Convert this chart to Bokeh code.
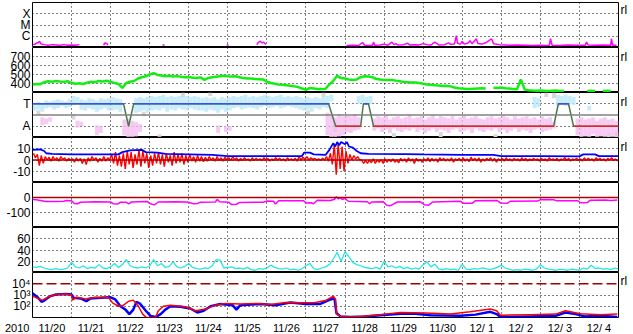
import numpy as np
from bokeh.plotting import figure
from bokeh.layouts import column
from bokeh.models import Range1d, FixedTicker, Span, LinearAxis, LogAxis
from bokeh.embed import file_html
from bokeh.resources import INLINE

nan = float("nan")

# ---------------- data ----------------
day_labels = ["11/20", "11/21", "11/22", "11/23", "11/24", "11/25", "11/26", "11/27",
              "11/28", "11/29", "11/30", "12/ 1", "12/ 2", "12/ 3", "12/ 4"]
year_label = "2010"

# X-ray flux (units of 1e-7 W/m2), (day, value); nan = gap
xray = [(0.0, 2.0), (0.05, 1.8), (0.1, 2.4), (0.15, 2.8), (0.18, 3.6), (0.22, 2.0), (0.3, 1.8),
        (0.4, 1.6), (0.5, 1.8), (0.6, 1.7), (0.7, 1.6), (0.8, 1.8), (0.9, 1.6), (1.0, 1.7),
        (1.1, 1.6), (1.2, 1.8), (1.21, nan),
        (1.82, 1.6), (1.85, 2.5), (1.9, 2.3), (1.93, 1.6), (1.94, nan),
        (3.33, 1.7), (3.38, 1.7), (3.39, nan),
        (4.97, 1.7), (5.02, 1.7), (5.03, nan),
        (5.74, 1.8), (5.78, 2.8), (5.82, 3.6), (5.88, 2.6), (5.92, 3.0), (5.97, 1.8), (5.98, nan),
        (8.04, 1.5), (8.2, 1.6), (8.35, 1.5), (8.45, 2.8), (8.5, 1.6), (8.7, 1.5), (8.73, 3.0),
        (8.76, 1.6), (8.9, 1.7), (9.0, 2.0), (9.1, 1.6), (9.2, 3.0), (9.25, 1.8), (9.3, 2.2),
        (9.35, 1.7), (9.5, 1.8), (9.6, 2.4), (9.65, 1.7), (9.8, 1.8), (9.9, 1.7), (10.0, 2.2),
        (10.1, 1.8), (10.2, 1.7), (10.3, 3.0), (10.4, 1.7), (10.55, 1.8), (10.65, 2.6),
        (10.7, 1.9), (10.8, 2.0), (10.85, 11.5), (10.88, 2.4), (10.95, 2.0), (11.0, 3.5),
        (11.05, 2.0), (11.15, 2.5), (11.2, 4.0), (11.25, 2.2), (11.36, 6.0), (11.4, 2.3),
        (11.5, 2.0), (11.6, 2.6), (11.75, 6.0), (11.8, 2.2), (11.85, 2.0), (11.95, 1.8),
        (12.1, 1.7), (12.2, 1.6), (12.4, 1.7), (12.6, 1.6), (12.8, 1.5), (13.0, 1.6),
        (13.1, 1.5), (13.23, 1.6), (13.26, 6.0), (13.3, 1.6), (13.5, 1.5), (13.7, 1.7),
        (13.9, 1.6), (14.15, 1.6), (14.18, 3.0), (14.22, 1.7), (14.4, 1.6), (14.6, 1.7),
        (14.8, 1.6), (14.82, 6.0), (14.85, 1.6), (14.95, 1.6)]

# Solar wind speed (km/s), every 0.1 day from 11/20 00:00
speed = [389, 395, 392, 415, 425, 420, 428, 422, 418, 425,
         405, 398, 402, 395, 410, 420, 415, 428, 422, 430,
         418, 405, 395, 350, 405, 420, 428, 455, 470, 480,
         500, 515, 495, 488, 480, 485, 478, 482, 475, 470,
         472, 465, 462, 468, 440, 462, 470, 475, 480, 485,
         480, 478, 480, 470, 460, 455, 455, 450, 448, 445,
         420, 405, 398, 390, 385, 380, 375, 368, 360, 345,
         330, 350, 345, 340, 340, 342, 390, 430, 485, 460,
         455, 445, 440, 445, 470, 480, 478, 470, 450, 445,
         440, 438, 440, 432, 425, 418, 415, 412, 410, 405,
         398, 390, 385, 380, 378, 372, 375, 368, 355, 348,
         345, 340, 338, 342, 345, 348, 345, nan, 352, 350,
         355, 348, 345, 340, 335, 445, 332, 325, 322, 320,
         322, 320, 318, 320, 322, 318, 320, nan, nan, nan,
         nan, nan, 318, 320, 316, nan, 318, 320, 318, nan,
         nan]

# IMF sector: T = 1, A = -1
sector_t = [0, 2.33, 2.46, 2.59, 7.58, 7.76, 8.40, 8.47, 8.60, 8.73, 13.34, 13.46, 13.72, 13.85, 15]
sector_v = [1, 1, -1, 1, 1, -1, -1, 1, 1, -1, -1, 1, 1, -1, -1]

# IMF angle clouds, 0.1-day bins: bin index, low, high
lb_k = list(range(0, 23)) + list(range(26, 77)) + [83, 84, 85, 86, 128, 129, 134, 135, 136, 137, 138, 142]
lb_lo = [0.4, 0.5, 0.3, 0.6, 0.7, 0.5, 0.6, 0.8, 0.6, 0.7, 0.9, 1.0, 0.5, 0.4, 0.6, 0.5, 0.3, 0.5, 0.6, 0.4,
         0.4, 0.5, 0.3,
         0.2, 0.3, 0.4, 0.2,
         0.4, 0.5, 0.4, 0.6, 0.3, 0.5, 0.4, 0.6, 0.5, 0.4, 0.6, 0.5, 0.4,
         0.4, 0.3, 0.5, 0.4, 0.2, 0.5, 0.3, 0.4,
         0.6, 0.7, 0.5, 0.6, 0.7, 0.6, 0.5,
         0.7, 0.8, 0.6, 0.7, 0.8, 0.6, 0.7, 0.8, 0.7, 0.6, 0.5,
         0.4, 0.5, 0.3,
         0.6, 0.5, 0.7, 0.6,
         1.2,
         1.0, 1.1, 0.9, 1.0, 0.6, 0.7, 0.8, 0.9, 0.8, 1.0, 0.9, 0.4]
lb_hi = [1.0, 1.2, 1.0, 1.3, 1.2, 1.3, 1.4, 1.3, 1.2, 1.4, 1.7, 1.6, 1.4, 1.3, 1.5, 1.4, 1.3, 1.5, 1.4, 1.5,
         1.6, 1.5, 1.4,
         1.5, 1.6, 1.5, 1.6,
         1.7, 1.6, 1.7, 1.8, 1.6, 1.7, 1.6, 1.7, 1.6, 1.7, 1.6, 1.7, 1.6,
         1.5, 1.6, 1.5, 1.6, 1.4, 1.6, 1.5, 1.6,
         1.7, 1.6, 1.7, 1.8, 1.6, 1.7, 1.6,
         1.7, 1.8, 1.7, 1.6, 1.7, 1.8, 1.6, 1.7, 1.6, 1.7, 1.6,
         1.5, 1.6, 1.5,
         1.6, 1.5, 1.6, 1.7,
         1.8,
         1.7, 1.8, 1.6, 1.7, 1.6, 1.5, 1.8, 1.7, 1.8, 1.7, 1.6, 0.8]

pk_k = [2, 3, 4, 11, 12, 16, 17, 23, 24, 25, 26, 27, 32, 47, 49, 50] + list(range(75, 84)) + \
       list(range(87, 134)) + list(range(139, 150))
pk_lo = [-0.9, -0.8, -0.6, -1.1, -1.0, -1.8, -1.6, -1.8, -2.0, -2.0, -1.9, -1.5, -2.0, -1.6, -1.5, -1.4,
         -1.8, -2.0, -2.0, -1.9, -1.8, -1.5, -1.6, -1.4, -1.3,
         -1.4, -1.2, -1.5, -1.3, -1.6, -1.2, -1.4, -1.5, -1.3, -1.4,
         -1.2, -1.5, -1.3, -1.6, -1.4, -1.2, -1.5, -1.3, -1.4, -1.6,
         -1.3, -1.2, -1.5, -1.4, -1.3, -1.6, -1.2, -1.4, -1.5, -1.3,
         -1.4, -1.2, -1.5, -1.3, -1.6, -1.4, -1.2, -1.5, -1.3, -1.4,
         -1.6, -1.3, -1.2, -1.5, -1.4, -1.3, -1.2,
         -1.8, -2.0, -1.9, -2.0, -1.7, -2.0, -1.9, -2.0, -1.8, -2.0, -2.0]
pk_hi = [-0.2, -0.3, -0.2, -0.5, -0.6, -0.9, -1.0, -0.4, -0.3, -0.5, -0.6, -0.8, -1.7, -0.9, -1.0, -1.0,
         0.2, 0.0, -0.2, 0.1, -0.1, 0.0, -0.1, 0.1, -0.2,
         -0.3, -0.1, -0.2, 0.0, -0.4, -0.2, -0.1, -0.3, -0.2, 0.1,
         -0.3, -0.2, -0.1, -0.4, -0.2, 0.0, -0.3, -0.1, -0.2, -0.3,
         -0.1, -0.4, -0.2, 0.0, -0.3, -0.2, -0.1, -0.3, -0.4, -0.2,
         -0.1, -0.3, -0.2, 0.0, -0.2, -0.4, -0.1, -0.3, -0.2, -0.1,
         -0.3, -0.2, -0.4, -0.1, -0.3, -0.2, -0.6,
         -0.3, -0.2, -0.4, -0.3, -0.2, -0.5, -0.3, -0.2, -0.4, -0.3, -0.5]

gy_k = [1, 10, 28, 38, 45, 70, 74, 77, 92, 104, 118, 131, 133, 147, 149]
gy_lo = [0.0, -0.4, -0.1, 1.6, 1.7, 0.0, 1.6, -1.5, -2.0, -2.0, -2.0, 1.6, 1.5, -2.0, -2.0]
gy_hi = [0.4, 0.1, 0.3, 2.0, 2.0, 0.4, 2.0, -0.5, -1.6, -1.5, -1.7, 2.0, 2.0, -1.6, -1.5]

# IMF Bt (nT), (day, value)
bt = [(0, 9), (0.2, 9.5), (0.3, 8), (0.35, 6), (0.5, 5.5), (1.0, 5), (1.5, 5), (2.2, 5), (2.3, 7),
      (2.5, 8.5), (2.8, 9), (2.9, 7), (3.2, 6.5), (3.4, 5.5), (4.0, 5), (4.6, 4.5), (5.0, 3.5),
      (6.0, 3.5), (6.9, 3.5), (6.95, 6.5), (7.1, 6.5), (7.2, 5), (7.5, 4.5), (7.6, 9), (7.7, 15),
      (7.75, 12), (7.8, 16), (7.85, 13), (7.9, 16), (8.0, 14), (8.05, 16), (8.1, 12), (8.2, 11),
      (8.3, 8), (8.4, 6), (8.6, 5.5), (9.5, 5.3), (10.0, 5), (11.0, 4.5), (11.8, 4.5), (12.0, 3.5),
      (13.0, 3.5), (14.0, 3.2), (14.1, 5), (14.4, 5), (14.5, 3.5), (15.0, 3.5)]

# IMF Bz (nT) high / low in 0.1-day bins
bz_hi = [6, 5, 4, 3, 2.5, 3, 2, 3, 2, 1.5,
         1, 2, 1.5, 1, 2, 3, 2, 1.5, 3, 2,
         5, 7, 4, 6, 8, 7, 5, 9, 8, 6,
         4, 6, 7, 5, 6, 4, 7, 5, 6, 4,
         5, 3, 4, 3, 2.5, 3, 2, 3, 2, 2.5,
         2, 3, 2, 1.5, 2, 1, 2, 1.5, 1, 2,
         1.5, 1, 2, 1.5, 1, 2, 1, 1.5, 3, 2.5,
         3, 2, 1.5, 1, 1.5, 3, 6, 14, 15, 12,
         8, 5, 4, 3, 0, -0.5, 0, 1, 0, 0.5,
         1, 0.5, 1, 0, 1.5, 1, 2, 1, 1.5, 0.5,
         1, 2, 1.5, 1, 2, 1.5, 1, 2, 1, 1.5,
         2, 1, 2.5, 1.5, 2, 1, 1.5, 2, 1.5, 1,
         1.5, 2, 1, 1.5, 1, 2, 1.5, 1, 1.5, 1,
         1.5, 1, 2, 1, 1.5, 1, 2, 1.5, 1, 1.5,
         1, 2, 1.5, 1, 2, 1.5, 1, 1.5, 2, 1]
bz_lo = [2, -5, -3, 0, -1, 0, -1, 0.5, -1, -0.5,
         -2, -1, -3, -4, -1, 0, -2, -1, -1, 0,
         -3, -5, -6, -8, -4, -7, -4, -6, -3, -7,
         -5, -3, -4, -6, -2, -5, -3, -2, -4, -2,
         -1, -2, -1, -1.5, -1, 0, -1, -0.5, -1, 0,
         -0.5, 0, -1, -0.5, 0, -1, -0.5, 0, -0.5, 0,
         -1, -0.5, 0, -0.5, -1, 0, -0.5, -1, 0, 0.5,
         0, 0.5, 0, -0.5, 0, -1, -4, -13, -8, -10,
         -3, 0, 1, 0, -3, -3, -2.5, -3, -2, -3,
         -2, -1.5, -2, -2.5, -1, -2, -1, -3, -1, -2,
         -1, -1.5, -1, -2, -0.5, -1, -1, -2, -0.5, -1,
         -1, -1.5, -0.5, -1, -2, -1, -0.5, -1, -2, -0.5,
         -1, -0.5, -1, 0, -1, -0.5, -1, -0.5, 0, -1,
         -0.5, -1, 0, -0.5, -1, 0, -0.5, -1, 0, -0.5,
         -1, -0.5, 0, -1, 0, -0.5, -1, 0, -0.5, -1]

# Dst (nT), (day, value)
dst = [(0.0, -13), (0.1, -15), (0.2, -20), (0.33, -27), (0.6, -26), (0.8, -25), (0.87, -20),
       (1.0, -22), (1.07, -40), (1.15, -42), (1.23, -32), (1.6, -29), (2.0, -30), (2.07, -42),
       (2.18, -44), (2.25, -31), (2.4, -32), (2.46, -42), (2.53, -30), (2.94, -27), (3.02, -42),
       (3.12, -49), (3.22, -30), (3.66, -28), (3.97, -30), (4.12, -42), (4.22, -40), (4.3, -31),
       (4.68, -30), (4.73, -13), (4.79, -28), (5.02, -31), (5.09, -46), (5.22, -45), (5.3, -33),
       (5.91, -32), (5.99, -24), (6.17, -25), (6.22, -44), (6.3, -22), (6.94, -22), (7.01, -36),
       (7.14, -35), (7.19, -42), (7.29, -18), (7.63, -20), (7.73, -12), (7.78, 5), (7.83, -10),
       (7.88, 0), (7.93, -14), (7.99, -5), (8.04, -16), (8.09, -25), (8.57, -28), (8.63, -42),
       (8.68, -30), (8.98, -29), (9.06, -50), (9.14, -56), (9.21, -48), (9.34, -30), (9.93, -29),
       (10.03, -48), (10.14, -51), (10.24, -30), (10.95, -25), (11.03, -38), (11.26, -38),
       (11.34, -21), (11.9, -20), (11.98, -37), (12.16, -38), (12.23, -25), (12.93, -24),
       (13.0, -14), (13.34, -15), (13.41, -21), (13.95, -21), (14.03, -35), (14.2, -34),
       (14.28, -18), (14.67, -17), (14.8, -20), (14.97, -16)]

# Panel 6 series, every 0.1 day
cyan = [10, 9, 11, 8, 6, 5, 7, 5, 6, 8,
        18, 10, 8, 12, 7, 9, 8, 14, 8, 7,
        10, 16, 9, 14, 23, 12, 9, 8, 10, 8,
        12, 23, 12, 16, 9, 11, 19, 10, 8, 11,
        16, 9, 7, 6, 8, 7, 12, 23, 22, 8,
        9, 10, 7, 8, 6, 9, 5, 4, 7, 6,
        8, 13, 9, 7, 6, 8, 5, 6, 4, 7,
        12, 16, 7, 5, 8, 10, 14, 24, 36, 20,
        37, 28, 18, 14, 12, 9, 8, 7, 9, 6,
        20, 10, 12, 8, 11, 7, 9, 6, 8, 6,
        14, 19, 10, 15, 6, 5, 7, 5, 6, 4,
        15, 6, 5, 7, 6, 8, 7, 5, 7, 9,
        13, 8, 6, 4, 5, 4, 6, 5, 4, 6,
        14, 8, 6, 5, 4, 6, 5, 4, 6, 5,
        4, 8, 6, 13, 7, 8, 6, 7, 5, 8,
        6]

# Electron flux, (day, value)
flux_blue = [(0, 1400), (0.13, 630), (0.23, 250), (0.3, 320), (0.46, 800), (0.6, 1100), (0.85, 1250),
             (1.0, 1100), (1.05, 560), (1.23, 500), (1.38, 280), (1.48, 500), (1.74, 560), (2.0, 630),
             (2.12, 400), (2.25, 100), (2.38, 50), (2.48, 20), (2.58, 50), (2.66, 250), (2.76, 160),
             (2.9, 40), (3.02, 14), (3.15, 11), (3.28, 20), (3.4, 50), (3.53, 100), (3.79, 90),
             (4.04, 63), (4.22, 28), (4.38, 40), (4.56, 100), (4.81, 160), (5.12, 125), (5.22, 50),
             (5.32, 125), (5.84, 160), (6.22, 125), (6.6, 220), (6.99, 160), (7.37, 160), (7.63, 400),
             (7.73, 500), (7.78, 25), (7.88, 12.5), (8.14, 11), (8.52, 12.5), (8.9, 16), (9.42, 22),
             (9.8, 22), (10.19, 16), (10.95, 14), (11.34, 18), (11.72, 32), (11.88, 20), (11.98, 11),
             (12.75, 12.5), (13.39, 14), (13.64, 28), (13.9, 20), (14.15, 12.5), (14.54, 14), (14.97, 11)]
flux_red = [(0, 800), (0.13, 500), (0.26, 350), (0.41, 700), (0.6, 1100), (0.85, 1250), (1.0, 1000),
            (1.02, 350), (1.13, 630), (1.36, 450), (1.61, 630), (1.95, 560), (2.05, 200), (2.2, 100),
            (2.33, 125), (2.46, 280), (2.58, 350), (2.71, 100), (2.82, 20), (2.92, 10), (3.15, 10),
            (3.22, 40), (3.35, 100), (3.53, 125), (3.92, 90), (4.17, 40), (4.43, 56), (4.68, 125),
            (4.94, 180), (5.32, 160), (5.71, 180), (6.09, 140), (6.48, 220), (6.86, 200), (7.24, 220),
            (7.5, 320), (7.7, 800), (7.76, 400), (7.78, 20), (7.93, 11), (8.4, 12.5), (8.9, 18),
            (9.42, 28), (10.06, 25), (10.7, 20), (11.2, 32), (11.72, 56), (11.88, 40), (11.98, 16),
            (12.75, 18), (13.39, 20), (13.64, 40), (14.03, 22), (14.54, 18), (14.97, 20)]

# ---------------- layout ----------------
FONT = "Liberation Sans"
GRID_DAYS = list(range(1, 15))


def style_axis(ax, size):
    ax.major_tick_line_color = None
    ax.minor_tick_line_color = None
    ax.major_tick_out = 0
    ax.major_tick_in = 0
    ax.minor_tick_out = 0
    ax.minor_tick_in = 0
    ax.axis_line_color = None
    ax.major_label_text_font = FONT
    ax.major_label_text_font_size = size
    ax.major_label_text_color = "black"


def panel(yr, ticks, labels, ytype="linear", first=False, last=False, rl=None):
    p = figure(frame_width=586, frame_height=45, x_range=Range1d(0, 15), y_range=yr,
               y_axis_type=ytype, output_backend="svg", toolbar_location=None,
               x_axis_location="below" if last else None,
               min_border_left=32, min_border_right=15,
               min_border_top=2 if first else 0, min_border_bottom=17 if last else 0)
    p.background_fill_color = "white"
    p.border_fill_color = "white"
    p.outline_line_color = "black"
    p.outline_line_width = 1
    ax = p.yaxis[0]
    ax.ticker = FixedTicker(ticks=ticks)
    ax.major_label_overrides = {t: l for t, l in zip(ticks, labels)}
    style_axis(ax, "12px")
    ax.major_label_standoff = 2
    p.ygrid.grid_line_color = "black"
    p.ygrid.grid_line_dash = "1 3"
    p.ygrid.grid_line_width = 1
    p.xgrid.ticker = FixedTicker(ticks=GRID_DAYS)
    p.xgrid.grid_line_color = "black"
    p.xgrid.grid_line_dash = "1 3"
    p.xgrid.grid_line_width = 1
    if rl is not None:
        cls = LogAxis if ytype == "log" else LinearAxis
        ra = cls(ticker=FixedTicker(ticks=[rl]), major_label_overrides={rl: "rl"})
        style_axis(ra, "12px")
        ra.major_label_standoff = 2
        p.add_layout(ra, "right")
    if last:
        xa = p.xaxis[0]
        # first tick carries the year in front of the first day label
        xt = [0.068] + [i + 0.5 for i in range(1, 15)]
        first_lab = year_label + "\u00a0" * 3 + day_labels[0]
        xa.ticker = FixedTicker(ticks=xt)
        xa.major_label_overrides = {t: l for t, l in zip(xt, [first_lab] + day_labels[1:])}
        style_axis(xa, "11px")
        xa.major_label_standoff = 4
    return p


def bin_t(ks):
    return [0.05 + 0.1 * k for k in ks]


# 1: X-ray
p1 = panel(Range1d(1e-7, 1e-3), [1e-6, 1e-5, 1e-4], ["C", "M", "X"], ytype="log", first=True, rl=2e-4)
p1.line([a for a, b in xray], [b * 1e-7 for a, b in xray], line_color="#ff00ff", line_width=1.5)

# 2: speed
p2 = panel(Range1d(300, 800), [400, 500, 600, 700], ["400", "500", "600", "700"], rl=690)
p2.line([0.1 * i for i in range(len(speed))], speed, line_color="#11ee11", line_width=2.5)

# 3: sector
p3 = panel(Range1d(-2, 2), [-1, 1], ["A", "T"], rl=1.2)
p3.vbar(x=bin_t(gy_k), width=0.1, bottom=gy_lo, top=gy_hi, fill_color="#d8d8d8", line_color=None)
p3.vbar(x=bin_t(lb_k), width=0.1, bottom=lb_lo, top=lb_hi, fill_color="#b8e8f8", fill_alpha=0.8,
        line_color=None)
p3.vbar(x=bin_t(pk_k), width=0.1, bottom=pk_lo, top=pk_hi, fill_color="#f5bdf0", fill_alpha=0.8,
        line_color=None)
p3.add_layout(Span(location=0, dimension="width", line_color="#808080", line_width=1.5))
p3.line(sector_t, sector_v, line_color="#4a7a4a", line_width=1.5)
for i in range(len(sector_t) - 1):
    if sector_v[i] == sector_v[i + 1]:
        c = "#4050e0" if sector_v[i] > 0 else "#e02828"
        p3.line([sector_t[i], sector_t[i + 1]], [sector_v[i], sector_v[i + 1]], line_color=c, line_width=1.5)

# 4: Bt / Bz
p4 = panel(Range1d(-20, 20), [-10, 0, 10], ["-10", "0", "10"], rl=12)
p4.add_layout(Span(location=0, dimension="width", line_color="#b00000", line_width=1.5))
bz_x, bz_y = [], []
for t, hi, lo in zip(bin_t(range(150)), bz_hi, bz_lo):
    bz_x += [t - 0.025, t + 0.025]
    bz_y += [hi, lo]
p4.line(bz_x, bz_y, line_color="#ff0000", line_width=1.4)
p4.line([a for a, b in bt], [b for a, b in bt], line_color="#0000ff", line_width=1.8)

# 5: Dst
p5 = panel(Range1d(-200, 100), [-100, 0], ["-100", "0"])
p5.add_layout(Span(location=0, dimension="width", line_color="#b00000", line_width=1.5))
p5.line([a for a, b in dst], [b for a, b in dst], line_color="#ff00ff", line_width=1.5)

# 6: cyan series
p6 = panel(Range1d(0, 80), [20, 40, 60], ["20", "40", "60"])
p6.line([0.1 * i for i in range(len(cyan))], cyan, line_color="#22e6e6", line_width=1.3)

# 7: electron flux
p7 = panel(Range1d(10, 1e5), [1e2, 1e3, 1e4], ["10\u00b2", "10\u00b3", "10\u2074"], ytype="log",
           last=True, rl=1.6e4)
p7.ygrid.ticker = FixedTicker(ticks=[1e2, 1e3])
p7.add_layout(Span(location=1e4, dimension="width", line_color="#a00000", line_width=1.5,
                   line_dash="10 4"))
p7.line([a for a, b in flux_blue], [b for a, b in flux_blue], line_color="#0000ff", line_width=2.5)
p7.line([a for a, b in flux_red], [b for a, b in flux_red], line_color="#ff0000", line_width=1.5)

layout = column(p1, p2, p3, p4, p5, p6, p7, spacing=0)
open("out.html", "w").write(file_html(layout, INLINE))
